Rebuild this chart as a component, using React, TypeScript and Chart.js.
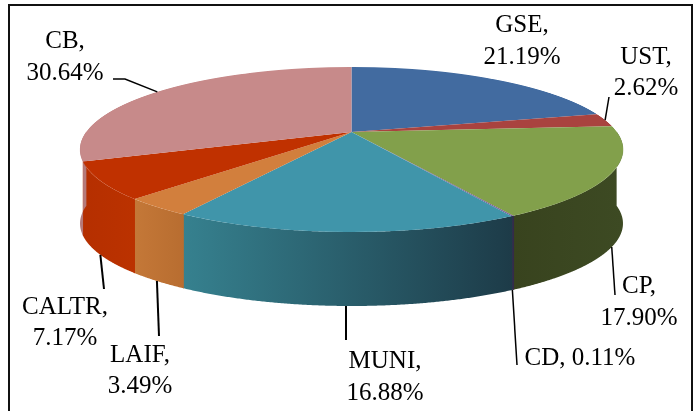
import React, { useEffect, useRef } from 'react';
import { Chart, registerables } from 'chart.js';

Chart.register(...registerables);

// ---- data ----
const categories = ['GSE', 'UST', 'CP', 'CD', 'MUNI', 'LAIF', 'CALTR', 'CB'];
const shares = [21.19, 2.62, 17.9, 0.11, 16.88, 3.49, 7.17, 30.64];

// ---- styles ----
const topColors = ['#426ba0', '#a9433f', '#82a04b', '#7b619c', '#4095aa', '#d27f3d', '#c03100', '#c78a8a'];
const sideColors = [
  ['#30507a', '#2c4a70'],
  ['#7e302e', '#7a2e2c'],
  ['#38431e', '#3d4a23'],
  ['#3a3050', '#332a48'],
  ['#36818f', '#1d3b48'],
  ['#c47838', '#b86d30'],
  ['#b52f00', '#bb3200'],
  ['#b57a7a', '#b57a7a'],
];

// label layout: centre x, first baseline, line height, leader end points (label side)
const labelLayout = [
  { x: 522, y: 32, lh: 32, one: false, leader: null as number[][] | null, lw: 1.5 },
  { x: 646, y: 64, lh: 31, one: false, leader: [[609, 97]], lw: 1.5 },
  { x: 639, y: 293, lh: 32, one: false, leader: [[615, 295]], lw: 1.5 },
  { x: 580, y: 365, lh: 32, one: true, leader: [[517, 365]], lw: 1.5 },
  { x: 385, y: 368, lh: 32, one: false, leader: [[346, 340]], lw: 2 },
  { x: 140, y: 362, lh: 31, one: false, leader: [[159, 336]], lw: 2 },
  { x: 65, y: 314, lh: 31, one: false, leader: [[104, 289]], lw: 2 },
  { x: 65, y: 48, lh: 32, one: false, leader: [[113, 79], [125, 79]], lw: 1.5 },
];

// perspective projection of the pie disc (unit circle) onto the screen
const PROJ = { cx: 351.5, s: 265.3, a: 50.79, b: 132, c: -0.2121, depth: 74 };

function rim(theta: number) {
  const u = Math.cos(theta);
  const v = Math.sin(theta);
  const d = 1 + PROJ.c * v;
  return { x: PROJ.cx + (PROJ.s * u) / d, y: (PROJ.a * v + PROJ.b) / d };
}

const pie3d = {
  id: 'pie3d',
  beforeDatasetDraw(chart: any, args: any) {
    const ctx: CanvasRenderingContext2D = chart.ctx;
    const meta = args.meta;
    const arcs = meta.data as any[];
    if (!arcs.length) return;
    // side walls
    arcs.forEach((arc, i) => {
      const lo = Math.max(arc.startAngle, 0) - 0.003;
      const hi = Math.min(arc.endAngle, Math.PI) + 0.003;
      if (hi <= lo + 0.006) return;
      const n = Math.max(2, Math.ceil((hi - lo) / 0.005));
      const top: { x: number; y: number }[] = [];
      for (let k = 0; k <= n; k++) top.push(rim(lo + ((hi - lo) * k) / n));
      const xs = top.map((p) => p.x);
      const x0 = Math.min(...xs);
      const x1 = Math.max(...xs);
      const g = ctx.createLinearGradient(x0, 0, Math.max(x1, x0 + 1), 0);
      g.addColorStop(0, sideColors[i][0]);
      g.addColorStop(1, sideColors[i][1]);
      ctx.beginPath();
      top.forEach((p, k) => (k ? ctx.lineTo(p.x, p.y) : ctx.moveTo(p.x, p.y)));
      for (let k = n; k >= 0; k--) ctx.lineTo(top[k].x, top[k].y + PROJ.depth);
      ctx.closePath();
      ctx.fillStyle = g;
      ctx.fill();
    });
    // top face drawn by Chart.js arcs, row by row through the perspective mapping
    const ax = arcs[0].x;
    const ay = arcs[0].y;
    const R = arcs[0].outerRadius;
    const W = chart.width;
    const yTop = Math.floor(rim(-Math.PI / 2).y) - 1;
    const yBot = Math.ceil(rim(Math.PI / 2).y) + 1;
    for (let y0 = yTop; y0< yBot; y0++) {
      const ym = y0 + 0.5;
      const v0 = (ym - PROJ.b) / (PROJ.a - PROJ.c * ym);
      const d = 1 + PROJ.c * v0;
      const G = PROJ.s / d;
      const K = (PROJ.a - PROJ.c * PROJ.b) / (d * d);
      ctx.save();
      ctx.beginPath();
      ctx.rect(0, y0, W, 1);
      ctx.clip();
      ctx.transform(G / R, 0, 0, K / R, PROJ.cx - (G * ax) / R, ym - K * v0 - (K * ay) / R);
      meta.controller.draw();
      ctx.restore();
    }
    return false;
  },
  afterDraw(chart: any) {
    const ctx: CanvasRenderingContext2D = chart.ctx;
    const arcs = chart.getDatasetMeta(0).data as any[];
    ctx.save();
    ctx.font = '25px "Liberation Serif", "Times New Roman", serif';
    ctx.fillStyle = '#000';
    ctx.strokeStyle = '#000';
    ctx.textAlign = 'center';
    ctx.textBaseline = 'alphabetic';
    arcs.forEach((arc, i) => {
      const L = labelLayout[i];
      const pct = shares[i].toFixed(2) + '%';
      const lines = L.one ? [`${categories[i]}, ${pct}`] : [`${categories[i]},`, pct];
      lines.forEach((t, k) => ctx.fillText(t, L.x, L.y + k * L.lh));
      if (L.leader) {
        const mid = (arc.startAngle + arc.endAngle) / 2;
        const p = rim(mid);
        const front = Math.sin(mid) > -PROJ.c;
        const anchor = [p.x, p.y + (front ? PROJ.depth : 0)];
        const pts = [...L.leader, anchor];
        ctx.lineWidth = L.lw;
        ctx.beginPath();
        pts.forEach((q, k) => (k ? ctx.lineTo(q[0], q[1]) : ctx.moveTo(q[0], q[1])));
        ctx.stroke();
      }
    });
    // frame
    ctx.lineWidth = 2;
    ctx.strokeStyle = '#111';
    ctx.strokeRect(9, 5, 683, 440);
    ctx.restore();
  },
};

export default function App() {
  const ref = useRef<HTMLCanvasElement | null>(null);
  useEffect(() => {
    if (!ref.current) return;
    const chart = new Chart(ref.current, {
      type: 'pie',
      data: {
        labels: categories,
        datasets: [
          {
            data: shares,
            backgroundColor: topColors,
            borderWidth: 0,
            clip: false as any,
          },
        ],
      },
      options: {
        responsive: false,
        animation: false,
        events: [],
        layout: { padding: { left: 250, right: 250, top: 100, bottom: 100 } },
        plugins: { legend: { display: false }, tooltip: { enabled: false } },
      },
      plugins: [pie3d as any],
    });
    return () => chart.destroy();
  }, []);
  return (
    <div style={{ position: 'fixed', left: 0, top: 0, width: 697, height: 411, background: '#fff' }}>
      <canvas ref={ref} width={697} height={411} style={{ display: 'block' }} />
    </div>
  );
}
